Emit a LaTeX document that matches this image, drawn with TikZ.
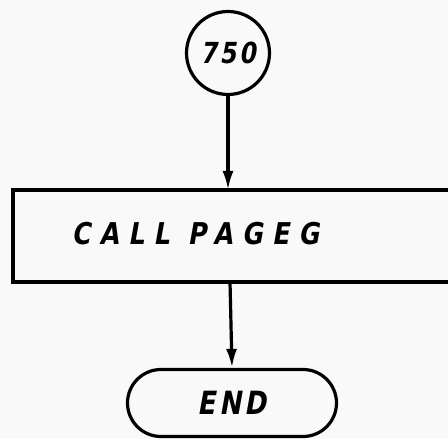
\documentclass[tikz,border=0pt]{standalone}
\usepackage{fontspec}
\usetikzlibrary{arrows.meta,shapes.misc}
\newfontfamily\letteringA{DejaVu Sans Bold}[FakeSlant=0.18,FakeStretch=0.84,LetterSpace=31]
\newfontfamily\letteringB{DejaVu Sans Bold}[FakeSlant=0.18,FakeStretch=0.82,LetterSpace=10]
\tikzset{
  conn/.style={line width=3.2pt,-{Latex[length=19pt,width=11pt]}},
  lbl/.style={font=\letteringA\fontsize{30}{30}\selectfont},
}
\begin{document}
\begin{tikzpicture}[x=1pt,y=1pt]
\useasboundingbox (0,0) rectangle (448,439);
\fill[white!95!gray] (0,0) rectangle (448,439);
\clip (0,0) rectangle (448,439);
\node[draw,line width=3.2pt,circle,minimum size=83pt,inner sep=0pt,font=\letteringB\fontsize{29}{29}\selectfont] (c) at (228,386) {750};
\coordinate (bl) at (13,157);
\coordinate (tr) at (470,249);
\draw[line width=3.2pt] (bl) rectangle (tr);
\node[lbl,anchor=west] (t) at (68,205) {CALL PAGEG};
\coordinate (btop) at (228,249);
\coordinate (bbot) at (230,157);
\node[draw,line width=3.2pt,rounded rectangle,minimum width=209pt,minimum height=67pt,inner sep=0pt,font=\letteringB\fontsize{32}{32}\selectfont] (e) at (232,36) {END};
\draw[conn] (c.south) -- (btop);
\draw[conn] (bbot) -- (e.north);
\end{tikzpicture}
\end{document}
